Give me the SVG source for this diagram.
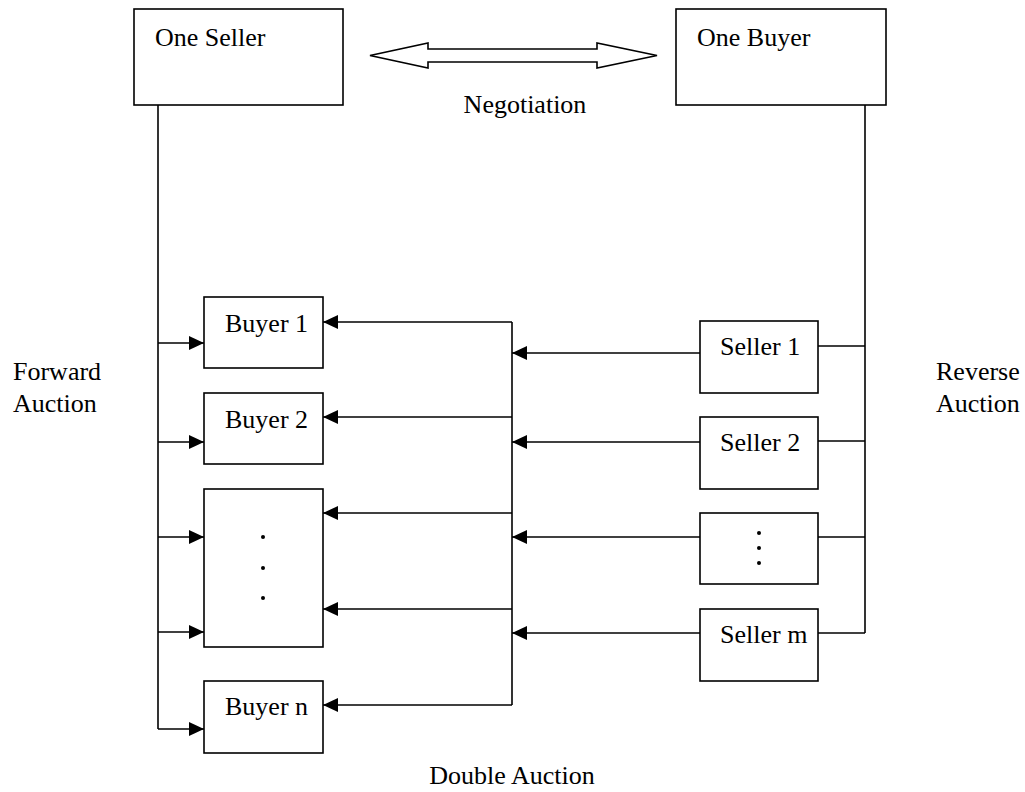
<svg xmlns="http://www.w3.org/2000/svg" width="1025" height="792" viewBox="0 0 1025 792">
<defs>
<style>
.box{fill:#fff;stroke:#000;stroke-width:1.6}
.ln{fill:none;stroke:#000;stroke-width:1.6}
.t{font-family:"Liberation Serif","Times New Roman",serif;font-size:26px;fill:#000}
.dot{fill:#000}
</style>
<marker id="ah" viewBox="0 0 15 14" refX="15" refY="7" markerWidth="15" markerHeight="14" markerUnits="userSpaceOnUse" orient="auto">
<path d="M0,0 L15,7 L0,14 Z" fill="#000"/>
</marker>
</defs>
<rect width="1025" height="792" fill="#fff"/>

<g id="connectors">
<path class="ln" d="M158,105 V729"/>
<path class="ln" d="M158,343 H204" marker-end="url(#ah)"/>
<path class="ln" d="M158,442 H204" marker-end="url(#ah)"/>
<path class="ln" d="M158,537 H204" marker-end="url(#ah)"/>
<path class="ln" d="M158,632 H204" marker-end="url(#ah)"/>
<path class="ln" d="M158,729 H204" marker-end="url(#ah)"/>
<path class="ln" d="M865,105 V633"/>
<path class="ln" d="M818,346 H865"/>
<path class="ln" d="M818,441 H865"/>
<path class="ln" d="M818,537 H865"/>
<path class="ln" d="M818,633 H865"/>
<path class="ln" d="M512,322 V705"/>
<path class="ln" d="M512,322 H323" marker-end="url(#ah)"/>
<path class="ln" d="M512,417 H323" marker-end="url(#ah)"/>
<path class="ln" d="M512,513 H323" marker-end="url(#ah)"/>
<path class="ln" d="M512,609 H323" marker-end="url(#ah)"/>
<path class="ln" d="M512,705 H323" marker-end="url(#ah)"/>
<path class="ln" d="M700,353 H512" marker-end="url(#ah)"/>
<path class="ln" d="M700,442 H512" marker-end="url(#ah)"/>
<path class="ln" d="M700,537 H512" marker-end="url(#ah)"/>
<path class="ln" d="M700,633 H512" marker-end="url(#ah)"/>
<polygon class="box" points="370,55.5 428,43 428,49 597,49 597,43 657,55.5 597,68 597,62 428,62 428,68"/>
</g>

<g id="one-seller">
<rect class="box" x="134" y="9" width="209" height="96"/>
<text class="t" x="155" y="46">One Seller</text>
</g>
<g id="one-buyer">
<rect class="box" x="676" y="9" width="210" height="96"/>
<text class="t" x="697" y="46">One Buyer</text>
</g>
<g id="negotiation-label">
<text class="t" x="525" y="113" text-anchor="middle">Negotiation</text>
</g>

<g id="buyer-1">
<rect class="box" x="204" y="297" width="119" height="71"/>
<text class="t" x="225" y="332">Buyer 1</text>
</g>
<g id="buyer-2">
<rect class="box" x="204" y="393" width="119" height="71"/>
<text class="t" x="225" y="428">Buyer 2</text>
</g>
<g id="buyer-dots">
<rect class="box" x="204" y="489" width="119" height="158"/>
<circle class="dot" cx="263" cy="537" r="2"/>
<circle class="dot" cx="263" cy="568" r="2"/>
<circle class="dot" cx="263" cy="598" r="2"/>
</g>
<g id="buyer-n">
<rect class="box" x="204" y="681" width="119" height="72"/>
<text class="t" x="225" y="715">Buyer n</text>
</g>

<g id="seller-1">
<rect class="box" x="700" y="321" width="118" height="72"/>
<text class="t" x="720" y="355">Seller 1</text>
</g>
<g id="seller-2">
<rect class="box" x="700" y="417" width="118" height="72"/>
<text class="t" x="720" y="451">Seller 2</text>
</g>
<g id="seller-dots">
<rect class="box" x="700" y="513" width="118" height="71"/>
<circle class="dot" cx="759" cy="533" r="2"/>
<circle class="dot" cx="759" cy="548" r="2"/>
<circle class="dot" cx="759" cy="563" r="2"/>
</g>
<g id="seller-m">
<rect class="box" x="700" y="609" width="118" height="72"/>
<text class="t" x="720" y="643">Seller m</text>
</g>

<g id="labels">
<text class="t" x="13" y="380">Forward</text>
<text class="t" x="13" y="412">Auction</text>
<text class="t" x="936" y="380">Reverse</text>
<text class="t" x="936" y="412">Auction</text>
<text class="t" x="512" y="784" text-anchor="middle">Double Auction</text>
</g>
</svg>
